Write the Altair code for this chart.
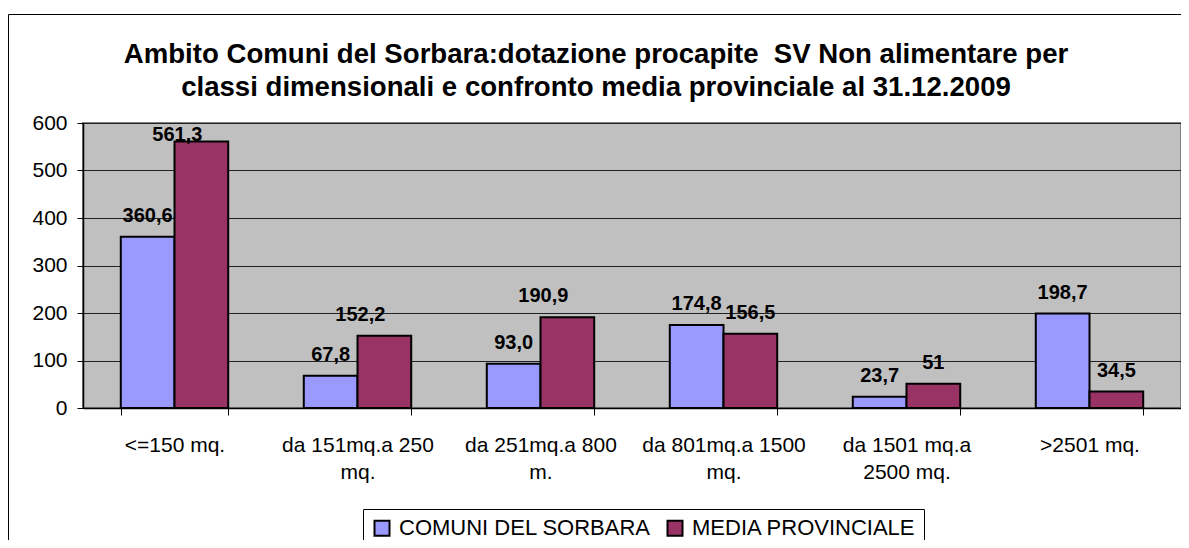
import altair as alt
import pandas as pd

categories = [
    "<=150 mq.",
    "da 151mq.a 250\nmq.",
    "da 251mq.a 800\nm.",
    "da 801mq.a 1500\nmq.",
    "da 1501 mq.a\n2500 mq.",
    ">2501 mq.",
]
series = ["COMUNI DEL SORBARA", "MEDIA PROVINCIALE"]
sorbara = [360.6, 67.8, 93.0, 174.8, 23.7, 198.7]
media = [561.3, 152.2, 190.9, 156.5, 51, 34.5]
sorbara_labels = ["360,6", "67,8", "93,0", "174,8", "23,7", "198,7"]
media_labels = ["561,3", "152,2", "190,9", "156,5", "51", "34,5"]
y_ticks = [0, 100, 200, 300, 400, 500, 600]
colors = ["#9999FF", "#993366"]
title_lines = [
    "Ambito Comuni del Sorbara:dotazione procapite \u00a0SV Non alimentare per",
    "classi dimensionali e confronto media provinciale al 31.12.2009",
]

rows = []
for i, c in enumerate(categories):
    rows.append({"cat": c, "serie": series[0], "value": sorbara[i], "label": sorbara_labels[i], "idx": i})
    rows.append({"cat": c, "serie": series[1], "value": media[i], "label": media_labels[i], "idx": i})
df = pd.DataFrame(rows)

FONT = "Liberation Sans"
W, H = 1098, 285

x_enc = alt.X(
    "cat:N",
    sort=categories,
    scale=alt.Scale(paddingInner=0.413, paddingOuter=0.2065),
    axis=alt.Axis(
        title=None, labelAngle=0, labelExpr="split(datum.label, '\\n')",
        tickBand="extent", ticks=True, tickSize=7, tickColor="black", tickWidth=1,
        domainColor="black", domainWidth=1.5, labelFontSize=21, labelFont=FONT,
        labelColor="black", labelPadding=19, labelLineHeight=27, labelLimit=0,
        grid=False, labelBaseline="top",
    ),
)
xoff = alt.XOffset("serie:N", sort=series, scale=alt.Scale(paddingInner=0, paddingOuter=0))
y_scale = alt.Scale(domain=[0, 600])

bars = alt.Chart(df).mark_bar(stroke="black", strokeWidth=2).encode(
    x=x_enc,
    xOffset=xoff,
    y=alt.Y(
        "value:Q", scale=y_scale,
        axis=alt.Axis(
            title=None, values=y_ticks, grid=True, gridColor="#222222", gridWidth=1,
            tickSize=6, tickColor="black", domainColor="black", domainWidth=1.5,
            labelFontSize=21, labelFont=FONT, labelColor="black", labelPadding=10,
        ),
    ),
    color=alt.Color(
        "serie:N", sort=series, scale=alt.Scale(domain=series, range=colors),
        legend=alt.Legend(
            title=None, orient="none", legendX=280, legendY=386, direction="horizontal",
            symbolType="square", symbolSize=225, symbolStrokeColor="black",
            symbolStrokeWidth=2, symbolOpacity=1, labelFontSize=22, labelFont=FONT,
            labelColor="black", strokeColor="black", fillColor="white", padding=8,
            columnPadding=12, labelOffset=6, labelLimit=0,
        ),
    ),
)

def label_layer(filter_expr, dx):
    return (
        alt.Chart(df)
        .transform_filter(filter_expr)
        .transform_calculate(ylab="min(datum.value, 531)")
        .mark_text(font=FONT, fontWeight="bold", fontSize=20, baseline="middle",
                   dy=-21, dx=dx, color="black")
        .encode(x=alt.X("cat:N", sort=categories), xOffset=xoff,
                y=alt.Y("ylab:Q", scale=y_scale), text="label:N")
    )

lab_a = label_layer("!(datum.serie == 'MEDIA PROVINCIALE' && datum.idx < 3)", 0)
lab_b = label_layer("datum.serie == 'MEDIA PROVINCIALE' && datum.idx < 3", -24)

one = pd.DataFrame({"a": [0]})
title_mark = alt.Chart(one).mark_text(
    font=FONT, fontSize=27.6, fontWeight="bold", color="black", align="center",
    baseline="alphabetic", lineHeight=33,
).encode(x=alt.value(513), y=alt.value(-60), text=alt.value(title_lines))

border_top = alt.Chart(one).mark_rule(color="black", strokeWidth=1).encode(
    x=alt.value(-74.5), x2=alt.value(1110), y=alt.value(-108.5)
)
border_left = alt.Chart(one).mark_rule(color="black", strokeWidth=1).encode(
    x=alt.value(-74.5), y=alt.value(-108.5), y2=alt.value(440)
)

chart = (
    alt.layer(bars, lab_a, lab_b, title_mark, border_top, border_left)
    .properties(
        width=W, height=H,
        autosize=alt.AutoSizeParams(type="none"),
        padding={"left": 75, "top": 115, "right": 0, "bottom": 132},
        background="white",
    )
    .configure_view(fill="#C0C0C0", stroke="#808080", strokeWidth=2)
)

chart.save("out.html", embed_options={"renderer": "svg", "actions": False})
